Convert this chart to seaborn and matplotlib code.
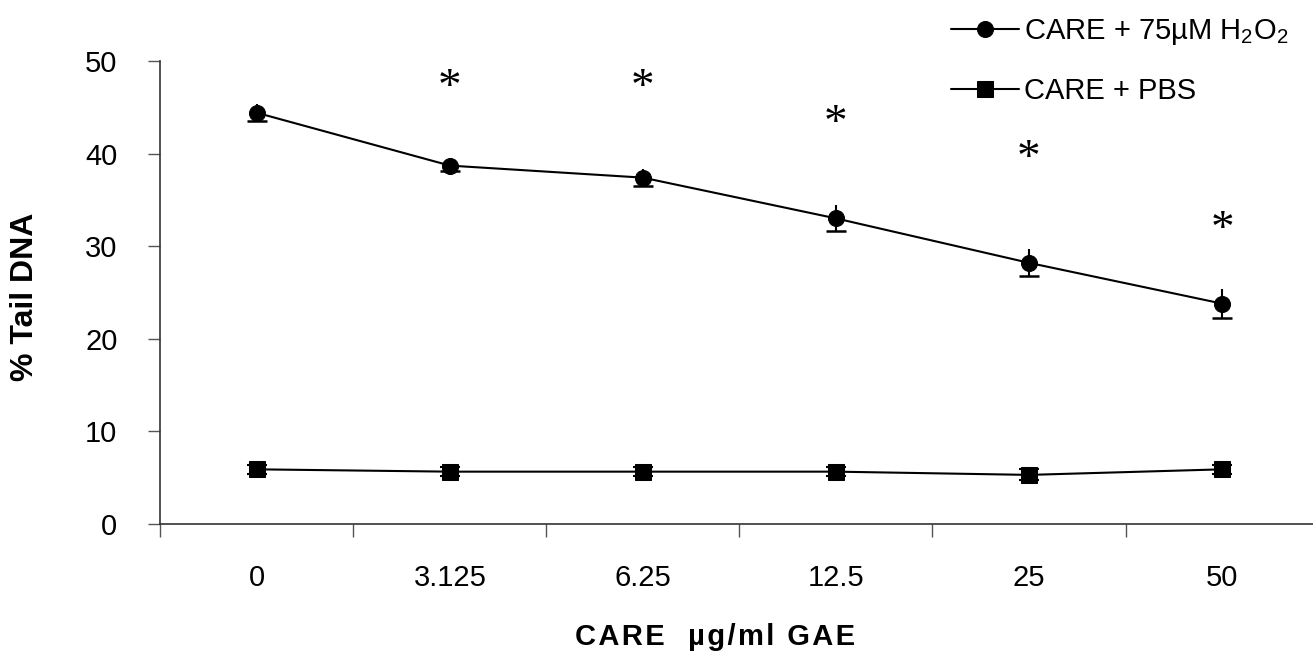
import matplotlib.pyplot as plt
import seaborn as sns
import pandas as pd

# CARE concentration (ug/ml GAE) on the x axis
doses = ["0", "3.125", "6.25", "12.5", "25", "50"]

# % tail DNA, mean and SE
h2o2_mean = [44.4, 38.7, 37.4, 33.0, 28.2, 23.8]
h2o2_err = [0.9, 0.6, 0.9, 1.4, 1.45, 1.6]
pbs_mean = [5.9, 5.65, 5.65, 5.65, 5.3, 5.9]
pbs_err = [0.5, 0.45, 0.45, 0.45, 0.6, 0.45]

# significance stars
star_doses = ["3.125", "6.25", "12.5", "25", "50"]
star_y = [47.0, 47.0, 43.1, 39.3, 31.7]

label_h2o2 = r"CARE + 75µM H$_2$O$_2$"
label_pbs = "CARE + PBS"
x_title = "CARE  µg/ml GAE"
y_title = "% Tail DNA"


def build_frame():
    pos = list(range(len(doses)))
    df = pd.DataFrame({
        "pos": pos + pos,
        "tail": h2o2_mean + pbs_mean,
        "err": h2o2_err + pbs_err,
        "series": [label_h2o2] * len(doses) + [label_pbs] * len(doses),
    })
    return df


def main():
    sns.set_style("white")
    plt.rcParams["font.family"] = ["Liberation Sans", "DejaVu Sans"]
    plt.rcParams["mathtext.fontset"] = "custom"
    plt.rcParams["mathtext.rm"] = "Liberation Sans"
    plt.rcParams["mathtext.it"] = "Liberation Sans"
    for key in ["text.color", "axes.labelcolor", "xtick.labelcolor", "ytick.labelcolor"]:
        plt.rcParams[key] = "black"

    fig = plt.figure(figsize=(13.13, 6.62), dpi=100)
    ax = fig.add_axes([0.1222, 0.2085, 0.8820, 0.6994])

    df = build_frame()
    sns.lineplot(
        data=df, x="pos", y="tail", hue="series", style="series",
        palette=["black", "black"], markers={label_h2o2: "o", label_pbs: "s"},
        dashes=False, markersize=11.5, linewidth=1.5, markeredgecolor="black",
        legend=False, ax=ax,
    )
    handles = list(ax.lines[:2])

    pos = list(range(len(doses)))
    # H2O2 error bars: whisker both ways, cap only on the lower end
    ax.errorbar(pos, h2o2_mean, yerr=h2o2_err, fmt="none", ecolor="black",
                elinewidth=1.5, capsize=0, zorder=1)
    low = [m - e for m, e in zip(h2o2_mean, h2o2_err)]
    ax.plot(pos, low, linestyle="none", marker="_", markersize=15,
            markeredgewidth=1.8, color="black")
    ax.errorbar(pos, pbs_mean, yerr=pbs_err, fmt="none", ecolor="black",
                elinewidth=1.5, capsize=7, capthick=1.5, zorder=1)

    for d, y in zip(star_doses, star_y):
        ax.text(doses.index(d), y, "*", ha="center", va="center",
                fontsize=34, family="Liberation Serif")

    ax.set_xlim(-0.5, len(doses) - 0.5)
    ax.set_ylim(0, 50)
    ax.set_xticks(pos)
    ax.set_xticklabels(doses)
    ax.set_xticks([p - 0.5 for p in pos] + [len(doses) - 0.5], minor=True)
    ax.tick_params(axis="x", which="major", length=0, pad=29, labelsize=21,
                   labelcolor="black")
    ax.tick_params(axis="x", which="minor", length=9, width=1, color="#555555",
                   direction="out")
    ax.set_yticks(range(0, 51, 10))
    ax.tick_params(axis="y", length=9, width=1, color="#555555", direction="out",
                   pad=22, labelsize=21, labelcolor="black")
    ax.tick_params(left=True, bottom=True, which="both")

    sns.despine(ax=ax)
    for s in ["left", "bottom"]:
        ax.spines[s].set_color("#333333")
        ax.spines[s].set_linewidth(1.2)

    # letter-spaced bold axis title
    ax.set_xlabel("\u200a".join(x_title), fontsize=21, fontweight="bold")
    ax.xaxis.set_label_coords(0.479, -0.244)
    ax.xaxis.label.set_verticalalignment("center")
    ax.set_ylabel(y_title, fontsize=23, fontweight="bold")
    ax.yaxis.set_label_coords(-0.117, 0.49)
    ax.yaxis.label.set_verticalalignment("center")

    fig.legend(handles=handles, labels=[label_h2o2, label_pbs], loc="upper left",
               bbox_to_anchor=(0.724, 0.974), frameon=False, fontsize=21,
               handlelength=2.35, handletextpad=0.15, labelspacing=1.02,
               borderpad=0, borderaxespad=0)

    fig.savefig("out.png", dpi=100)


if __name__ == "__main__":
    main()
